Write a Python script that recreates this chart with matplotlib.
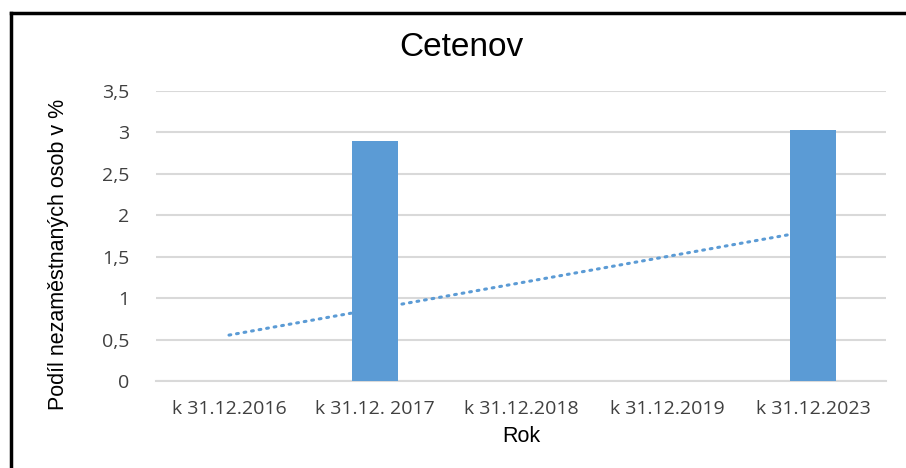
import matplotlib
matplotlib.use("Agg")
import matplotlib.pyplot as plt
import numpy as np
from matplotlib.lines import Line2D

categories = ["k 31.12.2016", "k 31.12. 2017", "k 31.12.2018", "k 31.12.2019", "k 31.12.2023"]
values = [0, 2.9, 0, 0, 3.03]
yticks = [0, 0.5, 1, 1.5, 2, 2.5, 3, 3.5]
ytick_labels = ["0", "0,5", "1", "1,5", "2", "2,5", "3", "3,5"]

bar_color = "#5b9bd5"
grid_color = "#d9d9d9"
tick_color = "#404040"

fig = plt.figure(figsize=(9.06, 4.68), dpi=100)
ax = fig.add_axes([156/906, 1-381/468, (886-156)/906, (381-91)/468])

x = np.arange(len(categories))
ax.bar(x, values, width=0.31, color=bar_color, zorder=3)

# linear trendline
coef = np.polyfit(x, values, 1)
ax.plot([x[0], x[-1]], np.polyval(coef, [x[0], x[-1]]), color=bar_color,
        linewidth=2.2, linestyle=(0, (0.6, 1.9)), dash_capstyle="round", zorder=4)

ax.set_xlim(-0.5, len(categories) - 0.5)
ax.set_ylim(0, 3.5)
ax.set_yticks(yticks)
ax.set_yticklabels(ytick_labels)
ax.set_xticks(x)
ax.set_xticklabels(categories)
ax.yaxis.grid(True, color=grid_color, linewidth=1.5, zorder=0)
ax.set_axisbelow(True)
for s in ["top", "right", "left"]:
    ax.spines[s].set_visible(False)
ax.spines["bottom"].set_color(grid_color)
ax.spines["bottom"].set_linewidth(1.5)
ax.tick_params(axis="both", length=0, colors=tick_color, labelsize=14)
ax.tick_params(axis="y", pad=19)
ax.tick_params(axis="x", pad=14)
for lab in ax.get_xticklabels() + ax.get_yticklabels():
    lab.set_fontfamily("Open Sans")

fig.text(461/906, 1-48/468, "Cetenov", ha="center", va="center",
         fontsize=24, family="Liberation Sans", color="#000000")
fig.text(59/906, 1-254/468, "Podíl nezaměstnaných osob v %", ha="center", va="center",
         rotation=90, fontsize=15.5, family="Liberation Sans")
fig.text(521/906, 1-437/468, "Rok", ha="center", va="center",
         fontsize=15.5, family="Liberation Sans")

# outer border (left and top)
fig.add_artist(Line2D([11/906, 11/906], [0, 1-13/468], transform=fig.transFigure,
                      color="black", linewidth=2.5))
fig.add_artist(Line2D([11/906, 1], [1-13/468, 1-13/468], transform=fig.transFigure,
                      color="black", linewidth=2.5))

fig.savefig("out.png", dpi=100, facecolor="white")
